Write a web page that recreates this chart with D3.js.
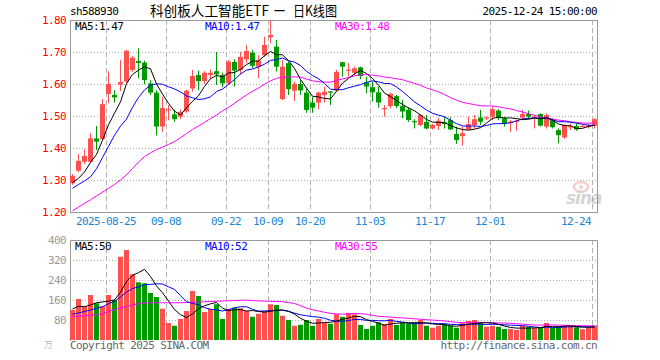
<!DOCTYPE html>
<html><head><meta charset="utf-8">
<script src="https://cdn.jsdelivr.net/npm/d3@7/dist/d3.min.js"></script>
<style>
body{margin:0;background:#fff}
svg{display:block}
text{font-family:"DejaVu Sans Mono",monospace;font-size:11px;letter-spacing:-0.6px}
</style>
</head><body>
<svg id="c" width="660" height="360"></svg>
<script>
const dates = [
"2025-08-15","2025-08-18","2025-08-19","2025-08-20","2025-08-21","2025-08-22","2025-08-25","2025-08-26","2025-08-27","2025-08-28","2025-08-29",
"2025-09-01","2025-09-02","2025-09-03","2025-09-04","2025-09-05","2025-09-08","2025-09-09","2025-09-10","2025-09-11","2025-09-12",
"2025-09-15","2025-09-16","2025-09-17","2025-09-18","2025-09-19","2025-09-22","2025-09-23","2025-09-24","2025-09-25","2025-09-26","2025-09-29","2025-09-30",
"2025-10-09","2025-10-10","2025-10-13","2025-10-14","2025-10-15","2025-10-16","2025-10-17","2025-10-20","2025-10-21","2025-10-22","2025-10-23","2025-10-24",
"2025-10-27","2025-10-28","2025-10-29","2025-10-30","2025-10-31",
"2025-11-03","2025-11-04","2025-11-05","2025-11-06","2025-11-07","2025-11-10","2025-11-11","2025-11-12","2025-11-13","2025-11-14",
"2025-11-17","2025-11-18","2025-11-19","2025-11-20","2025-11-21","2025-11-24","2025-11-25","2025-11-26","2025-11-27","2025-11-28",
"2025-12-01","2025-12-02","2025-12-03","2025-12-04","2025-12-05","2025-12-08","2025-12-09","2025-12-10","2025-12-11","2025-12-12",
"2025-12-15","2025-12-16","2025-12-17","2025-12-18","2025-12-19","2025-12-22","2025-12-23","2025-12-24"];

const opens = [1.290,1.329,1.357,1.357,1.430,1.428,1.569,1.566,1.598,1.608,
1.644,1.672,1.667,1.602,1.573,1.467,1.518,1.505,1.498,1.514,
1.586,1.628,1.609,1.628,1.640,1.628,1.602,1.669,1.644,1.677,
1.698,1.654,1.690,1.746,1.717,1.553,1.665,1.579,1.600,1.573,
1.542,1.542,1.566,1.577,1.579,1.668,1.642,1.635,1.652,1.605,
1.590,1.574,1.522,1.531,1.562,1.531,1.520,1.484,1.472,1.482,
1.461,1.469,1.480,1.487,1.444,1.437,1.458,1.472,1.495,1.494,
1.498,1.517,1.493,1.481,1.483,1.495,1.506,1.496,1.506,1.467,
1.487,1.456,1.433,1.466,1.469,1.468,1.468,1.469];

const highs = [1.318,1.381,1.396,1.446,1.469,1.553,1.640,1.581,1.675,1.707,
1.688,1.712,1.673,1.612,1.580,1.560,1.534,1.520,1.520,1.582,
1.644,1.642,1.640,1.645,1.700,1.635,1.675,1.677,1.700,1.722,
1.706,1.690,1.748,1.800,1.738,1.675,1.670,1.607,1.612,1.586,
1.560,1.576,1.592,1.577,1.644,1.670,1.665,1.654,1.654,1.623,
1.607,1.592,1.534,1.573,1.566,1.550,1.527,1.490,1.506,1.503,
1.475,1.493,1.498,1.496,1.467,1.467,1.498,1.503,1.519,1.498,
1.529,1.521,1.498,1.488,1.488,1.519,1.517,1.503,1.508,1.508,
1.493,1.461,1.475,1.477,1.477,1.472,1.475,1.493];

const lows = [1.285,1.325,1.350,1.352,1.394,1.425,1.540,1.542,1.578,1.602,
1.638,1.618,1.599,1.566,1.439,1.451,1.487,1.482,1.490,1.510,
1.576,1.581,1.600,1.615,1.597,1.590,1.597,1.592,1.630,1.665,
1.649,1.618,1.685,1.727,1.639,1.550,1.566,1.547,1.566,1.510,
1.510,1.521,1.542,1.534,1.576,1.623,1.623,1.628,1.615,1.571,
1.545,1.526,1.498,1.524,1.524,1.493,1.482,1.461,1.468,1.458,
1.458,1.456,1.461,1.456,1.413,1.407,1.456,1.461,1.472,1.487,
1.487,1.487,1.467,1.451,1.454,1.487,1.490,1.461,1.467,1.461,
1.461,1.415,1.429,1.456,1.454,1.465,1.461,1.461];

const closes = [1.313,1.360,1.375,1.430,1.420,1.537,1.600,1.558,1.606,1.704,
1.682,1.666,1.612,1.573,1.467,1.525,1.521,1.490,1.513,1.579,
1.625,1.609,1.635,1.635,1.630,1.602,1.670,1.642,1.685,1.703,
1.657,1.673,1.722,1.753,1.654,1.654,1.584,1.600,1.580,1.519,
1.526,1.573,1.576,1.573,1.638,1.654,1.645,1.649,1.625,1.592,
1.574,1.542,1.525,1.569,1.531,1.514,1.487,1.481,1.503,1.461,
1.472,1.485,1.475,1.458,1.425,1.446,1.475,1.490,1.482,1.496,
1.521,1.493,1.477,1.483,1.485,1.506,1.498,1.498,1.470,1.503,
1.465,1.440,1.472,1.468,1.458,1.469,1.470,1.490];

const volumes = [120,164,135,180,147,135,180,160,333,360,
263,231,227,188,172,125,68,57,84,116,
196,176,112,124,143,84,124,129,127,116,
93,105,116,143,140,97,80,57,61,80,
57,84,69,65,103,93,108,103,60,44,
57,71,63,84,60,69,67,69,80,57,
49,57,63,57,49,67,76,80,71,53,
57,53,44,44,40,57,53,47,49,68,
49,53,57,55,51,43,51,58];

const ma5Head = [1.292,1.305,1.325,1.355];
const ma10Head = [1.274,1.286,1.297,1.310,1.335,1.370,1.405,1.440,1.468];
const ma30Head = [1.204,1.215,1.227,1.238,1.250,1.262,1.274,1.286,1.300,1.316,1.336,1.356,1.373,1.385,1.395,1.403,1.411,1.420,1.432,1.445,1.458,1.469,1.480,1.492,1.503,1.516,1.527,1.540,1.553];
const vma5Head = [124,135,133,140];
const vma10Head = [103,108,114,120,127,133,145,155,172];
const vma30Head = [93,95,97,99,101,105,115,122,128,134,140,145,148,149,149,149,149,149,149,150,151,152,153,154,155,156,157,158,159];

const priceTicks = [1.20,1.30,1.40,1.50,1.60,1.70,1.80];
const volTicks = [80,160,240,320,400];
const xTickDates = ["2025-08-25","2025-09-08","2025-09-22","2025-10-09","2025-10-20","2025-11-03","2025-11-17","2025-12-01","2025-12-24"];
const xTickLabels = ["2025-08-25","09-08","09-22","10-09","10-20","11-03","11-17","12-01","12-24"];
const priceLegend = ["MA5:1.47","MA10:1.47","MA30:1.48"];
const volLegend = ["MA5:50","MA10:52","MA30:55"];
const code = "sh588930";
const titleParts = ["科创板人工智能ETF","一","日K线图"];
const stamp = "2025-12-24 15:00:00";

const RED="#ff5050", GREEN="#009900", GRID="#b0b0b0", FRAME="#9a9a9a";
const maColors = ["#000000","#0000ff","#ff00ff"];

function ma(arr,n,head){
  return arr.map((v,i)=> i<n-1 ? head[i] : d3.mean(arr.slice(i-n+1,i+1)));
}

const svg = d3.select("#c");
const L=70, R=598;
const x = d3.scaleBand().domain(dates).range([L,R]).paddingInner(0).paddingOuter(0);
const bw = 5;
const cx = d => x(d)+2.5;
const y = d3.scaleLinear().domain([1.20,1.80]).range([212,20]);
const yv = d3.scaleLinear().domain([0,400]).range([340,240]);

// header
svg.append("text").attr("x",70).attr("y",15).attr("fill","#000").text(code);
const tPos = [[150,119],[274,11],[293,44]];
titleParts.forEach((t,k)=>{
  svg.append("text").attr("x",tPos[k][0]).attr("y",16).attr("fill","#000")
    .style("font-family","'Noto Sans CJK SC',sans-serif").style("font-size","14px").style("letter-spacing","0")
    .attr("textLength",tPos[k][1]).attr("lengthAdjust","spacingAndGlyphs").text(t);
});
svg.append("text").attr("x",597).attr("y",15).attr("text-anchor","end").attr("fill","#000").text(stamp);

// grids
function hgrid(ticks, sc){
  svg.append("g").selectAll("line").data(ticks).join("line")
    .attr("x1",L).attr("x2",597).attr("y1",d=>Math.round(sc(d))+0.5).attr("y2",d=>Math.round(sc(d))+0.5)
    .attr("stroke",GRID).attr("stroke-dasharray","1,2");
}
hgrid(priceTicks.slice(1,-1), y);
hgrid(volTicks.slice(0,-1), yv);
function vgrid(y1,y2){
  svg.append("g").selectAll("line").data(xTickDates).join("line")
    .attr("x1",d=>x(d)+0.5).attr("x2",d=>x(d)+0.5).attr("y1",y1).attr("y2",y2)
    .attr("stroke",GRID).attr("stroke-dasharray","5,3");
}
vgrid(20,212); vgrid(240,340);

// frames
svg.append("rect").attr("x",70.5).attr("y",20.5).attr("width",527).attr("height",192)
  .attr("fill","none").attr("stroke",FRAME);
svg.append("path").attr("d","M70.5,341V240.5H597.5V341").attr("fill","none").attr("stroke",FRAME);

// axes
const ay = svg.append("g").attr("transform","translate(70,0)")
  .call(d3.axisLeft(y).tickValues(priceTicks).tickSize(0).tickPadding(4).tickFormat(d3.format(".2f")));
ay.select(".domain").remove();
ay.selectAll("text").attr("fill","#ff0000").style("font-family","'DejaVu Sans Mono',monospace").style("font-size","11px").attr("dy","0.35em");
const av = svg.append("g").attr("transform","translate(70,0)")
  .call(d3.axisLeft(yv).tickValues(volTicks).tickSize(0).tickPadding(4));
av.select(".domain").remove();
av.selectAll("text").attr("fill","#999").style("font-family","'DejaVu Sans Mono',monospace").style("font-size","11px").attr("dy","0.35em");
svg.append("text").attr("x",44).attr("y",348).attr("fill","#bbb").style("font-size","9px")
  .style("font-family","'Noto Sans CJK SC',sans-serif").text("万");

svg.append("g").selectAll("text").data(xTickDates).join("text")
  .attr("x",(d,i)=> i===xTickDates.length-1 ? x(d)-1 : x(d))
  .attr("text-anchor",(d,i)=> i===xTickDates.length-1 ? "end" : "middle")
  .attr("y",225).attr("fill","#1a86d0").text((d,i)=>xTickLabels[i]);

// watermark
const wm = svg.append("g").attr("opacity",0.3);
wm.append("ellipse").attr("cx",581).attr("cy",187).attr("rx",7).attr("ry",5).attr("fill","none").attr("stroke","#e06060").attr("stroke-width",2.5);
wm.append("circle").attr("cx",581).attr("cy",187).attr("r",2).attr("fill","#e06060");
wm.append("text").attr("x",566).attr("y",204).attr("fill","#777").style("font-family","'DejaVu Sans',sans-serif")
  .style("font-size","17px").style("font-weight","bold").style("font-style","italic").style("letter-spacing","-1px").text("sina");

// candles
const idx = d3.range(dates.length);
const col = i => closes[i] >= opens[i] ? RED : GREEN;
const cg = svg.append("g");
cg.selectAll("line").data(idx).join("line")
  .attr("x1",i=>cx(dates[i])).attr("x2",i=>cx(dates[i]))
  .attr("y1",i=>y(highs[i])).attr("y2",i=>y(lows[i]))
  .attr("stroke",col).attr("stroke-width",1);
cg.selectAll("rect").data(idx).join("rect")
  .attr("x",i=>x(dates[i])).attr("width",bw)
  .attr("y",i=>y(Math.max(opens[i],closes[i])))
  .attr("height",i=>Math.max(1.2, y(Math.min(opens[i],closes[i]))-y(Math.max(opens[i],closes[i]))))
  .attr("fill",col);

// volume bars
svg.append("g").selectAll("rect").data(idx).join("rect")
  .attr("x",i=>x(dates[i])).attr("width",bw)
  .attr("y",i=>yv(volumes[i])).attr("height",i=>yv(0)-yv(volumes[i]))
  .attr("fill",col);

// MA lines
const pMA = [ma(closes,5,ma5Head), ma(closes,10,ma10Head), ma(closes,30,ma30Head)];
const vMA = [ma(volumes,5,vma5Head), ma(volumes,10,vma10Head), ma(volumes,30,vma30Head)];
const lineP = d3.line().x((d,i)=>cx(dates[i])).y(d=>y(d));
const lineV = d3.line().x((d,i)=>cx(dates[i])).y(d=>yv(d));
[2,1,0].forEach(k=>{
  svg.append("path").attr("d",lineP(pMA[k])).attr("fill","none").attr("stroke",maColors[k]).attr("stroke-width",1);
  svg.append("path").attr("d",lineV(vMA[k])).attr("fill","none").attr("stroke",maColors[k]).attr("stroke-width",1);
});

// legends
const legX = [75,205,335];
priceLegend.forEach((t,k)=>svg.append("text").attr("x",legX[k]).attr("y",30).attr("fill",maColors[k]).text(t));
volLegend.forEach((t,k)=>svg.append("text").attr("x",legX[k]).attr("y",250).attr("fill",maColors[k]).text(t));

// footer
svg.append("text").attr("x",70).attr("y",349).attr("fill","#666").text("Copyright 2025 SINA.COM");
svg.append("text").attr("x",597).attr("y",349).attr("text-anchor","end").attr("fill","#666").text("http://finance.sina.com.cn");
</script>
</body></html>
